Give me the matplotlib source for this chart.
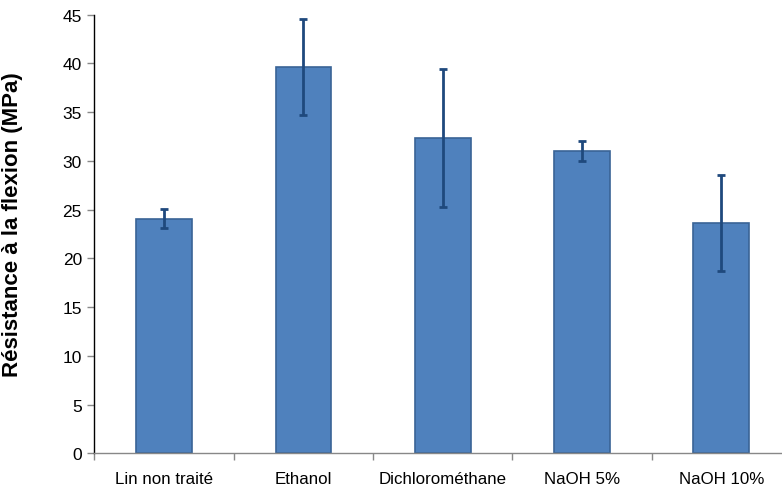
import matplotlib
matplotlib.use("Agg")
import matplotlib.pyplot as plt
import numpy as np

categories = ["Lin non traité", "Ethanol", "Dichlorométhane", "NaOH 5%", "NaOH 10%"]
resistance = [24.07, 39.63, 32.35, 31.0, 23.63]
ecart_type = [1.0, 4.9, 7.05, 1.0, 4.9]
y_ticks = [0, 5, 10, 15, 20, 25, 30, 35, 40, 45]

plt.rcParams["font.family"] = ["Liberation Sans", "DejaVu Sans"]

fig = plt.figure(figsize=(7.82, 4.89), dpi=100)
ax = fig.add_axes([0.1208, 0.0710, 0.8907, 0.8969])

x = np.arange(len(categories))
ax.bar(x, resistance, width=0.40, color="#4F81BD", edgecolor="#3A6496",
       linewidth=1.2, zorder=2)
ax.errorbar(x, resistance, yerr=ecart_type, fmt="none", ecolor="#1F497D",
            elinewidth=2.0, capsize=3, capthick=2.0, zorder=3)

ax.set_xlim(-0.5, len(categories) - 0.5)
ax.set_ylim(0, 45)
ax.set_yticks(y_ticks)
ax.set_yticklabels([str(v) for v in y_ticks], fontsize=12.5)

ax.set_xticks(x)
ax.set_xticklabels(categories, fontsize=12.2)
ax.tick_params(axis="x", which="major", length=0, pad=13)
ax.set_xticks(np.arange(len(categories) + 1) - 0.5, minor=True)
ax.tick_params(axis="x", which="minor", length=5, color="#888888", width=1)
ax.tick_params(axis="y", length=5, color="#888888", width=1, pad=4)

for side in ("top", "right"):
    ax.spines[side].set_visible(False)
ax.spines["left"].set_color("black")
ax.spines["left"].set_linewidth(1.0)
ax.spines["bottom"].set_color("#888888")
ax.spines["bottom"].set_linewidth(1.0)

ax.set_ylabel("Résistance à la flexion (MPa)", fontsize=16, fontweight="bold")
ax.yaxis.set_label_coords(-0.1027, 0.524)

fig.savefig("out.png", dpi=100)
